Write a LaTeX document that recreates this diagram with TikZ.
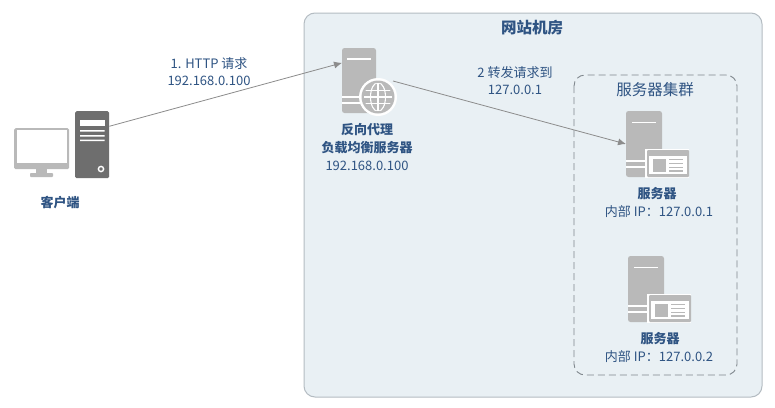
\documentclass[tikz,border=0pt]{standalone}
\usepackage{fontspec}
\setmainfont{Noto Sans CJK SC}
\usetikzlibrary{arrows.meta}
\definecolor{roomfill}{HTML}{E9F0F4}
\definecolor{roomline}{HTML}{B4BCC2}
\definecolor{dashline}{HTML}{7E868C}
\definecolor{txt}{HTML}{2F5483}
\definecolor{icon}{HTML}{B9B9B9}
\definecolor{towerc}{HTML}{6E6E6E}
\definecolor{conn}{HTML}{8C8C8C}
\tikzset{
  x=1pt,y=-1pt,
  room/.style={draw=roomline,line width=1pt,fill=roomfill,rounded corners=11pt},
  cluster/.style={draw=dashline,line width=.9pt,dash pattern=on 7pt off 4pt,rounded corners=11pt},
  lbl/.style={text=txt,font=\fontsize{13}{15}\selectfont,inner sep=0pt,align=center},
  blbl/.style={text=txt,font=\fontsize{13}{15}\selectfont\bfseries,inner sep=0pt,align=center},
  ttl/.style={text=txt,font=\fontsize{15.5}{17}\selectfont\bfseries,inner sep=0pt},
  grp/.style={text=txt,font=\fontsize{15.5}{17}\selectfont,inner sep=0pt},
  body/.style={fill=icon,rounded corners=2.5pt,inner sep=0pt,minimum width=#1,outer sep=0pt},
  link/.style={draw=conn,line width=.8pt,-{Latex[length=8pt,width=7pt,fill=conn]}},
  wl/.style={draw=white,line width=1.6pt},
}
\newcommand{\srvicon}[3]{%
  % #1 name, #2 left, #3 top
  \begin{scope}[shift={(#2,#3)}]
    \node[body=36pt,minimum height=66pt,anchor=north west] (#1) at (0,0) {};
    \draw[wl] (6,11.5) -- (30,11.5);
    \fill[white] (19,37.5) rectangle (63,66.5);
    \fill[icon,rounded corners=1pt] (21,39) rectangle (63,66);
    \fill[white] (23,45) rectangle (61,63);
    \fill[icon] (27,48) rectangle (40,61);
    \draw[icon,line width=1.3pt] (43,48.5) -- (57,48.5) (43,52.5) -- (57,52.5) (43,56.5) -- (57,56.5) (43,60) -- (57,60);
    \draw[wl] (0,50) -- (19,50) (0,56) -- (19,56);
  \end{scope}}
\begin{document}
\begin{tikzpicture}
\useasboundingbox (0,0) rectangle (775,407);
\fill[white] (0,0) rectangle (775,407);
\path[room] (304,13) rectangle (762,397);
\path[cluster] (574,75) rectangle (737,375);
\node[ttl] (title) at (532,27.5) {网站机房};
\node[grp] (grptitle) at (655,90) {服务器集群};

% client
\node[fill=icon,rounded corners=1.5pt,inner sep=0pt,minimum width=55pt,minimum height=41pt,anchor=north west] (monitor) at (14,128) {};
\fill[white] (16.5,130) rectangle (66.5,162.5);
\fill[icon] (36,169) rectangle (47,173.5);
\fill[icon,rounded corners=.8pt] (30,173) rectangle (53,177);
\node[fill=towerc,rounded corners=1.5pt,inner sep=0pt,minimum width=34pt,minimum height=67pt,anchor=north west] (tower) at (75,111) {};
\fill[white] (80,120) rectangle (104.5,126);
\fill[white] (80,130) rectangle (104.5,131.5) (80,135) rectangle (104.5,136.5) (80,139.5) rectangle (104.5,141);
\draw[white,line width=1.4pt] (101,169) circle (2.6);
\node[blbl] (clientlbl) at (60,202.5) {客户端};

% proxy
\node[body=34pt,minimum height=65pt,anchor=north west] (proxy) at (342,48) {};
\draw[wl] (347,59) -- (371,59);
\draw[wl] (342,97) -- (360,97) (342,103) -- (360,103);
\node[circle,fill=white,inner sep=0pt,minimum size=38pt] (globe) at (378,97) {};
\fill[icon] (378,97) circle (16.5);
\begin{scope}
  \clip (378,97) circle (14);
  \draw[white,line width=1.1pt] (378,97) ellipse (7.5 and 14.5);
  \draw[white,line width=1.1pt] (378,81) -- (378,113) (360,97) -- (396,97) (360,90.5) -- (396,90.5) (360,103.5) -- (396,103.5);
\end{scope}
\node[blbl] (proxylbl1) at (367,130) {反向代理};
\node[blbl] (proxylbl2) at (367,148) {负载均衡服务器};
\node[lbl] (proxyip) at (367,166) {192.168.0.100};

% servers
\srvicon{srva}{626}{111}
\node[blbl] (srvalbl) at (657,193.5) {服务器};
\node[lbl] (srvaip) at (659,212) {内部 IP：127.0.0.1};
\srvicon{srvb}{628}{256}
\node[blbl] (srvblbl) at (660,338.5) {服务器};
\node[lbl] (srvbip) at (659,357) {内部 IP：127.0.0.2};

% connectors
\coordinate (fwdstart) at (393,81);
\draw[link] (tower.47) -- (proxy.134);
\draw[link] (fwdstart) -- (srva.west);
\node[lbl] (l1a) at (209,64) {1. HTTP 请求};
\node[lbl] (l1b) at (209,81) {192.168.0.100};
\node[lbl] (l2a) at (515,73) {2 转发请求到};
\node[lbl] (l2b) at (515,90) {127.0.0.1};
\end{tikzpicture}
\end{document}
